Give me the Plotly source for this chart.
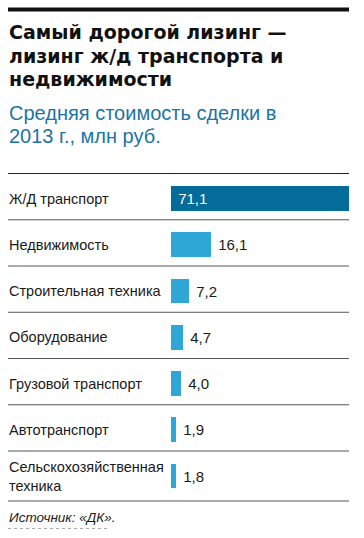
import plotly.graph_objects as go

categories = ["Ж/Д транспорт", "Недвижимость", "Строительная техника", "Оборудование",
              "Грузовой транспорт", "Автотранспорт", "Сельскохозяйственная<br>техника"]
values = [71.1, 16.1, 7.2, 4.7, 4.0, 1.9, 1.8]

title_lines = ["Самый дорогой лизинг —", "лизинг ж/д транспорта и", "недвижимости"]
subtitle_lines = ["Средняя стоимость сделки в", "2013 г., млн руб."]
source = "Источник: «ДК»."

W, H = 364, 538
# pixel geometry of the bar area
BAR_X0, BAR_X1 = 171, 349          # zero line and end of the longest bar
ROW0_Y, ROW_STEP = 198.5, 46.25    # centre of first row, row pitch
XS = (BAR_X1 - BAR_X0) / max(values)


def px(x):
    return x / W


def py(y):
    return 1 - y / H


def xd(x):
    return (x - BAR_X0) / XS


def yd(y):
    return (y - ROW0_Y) / ROW_STEP


DARK = "#046c99"
LIGHT = "#2ea6d6"
FONT = "Liberation Sans, Arial, sans-serif"

idx = list(range(len(categories)))
colors = [DARK] + [LIGHT] * (len(values) - 1)
positions = ["inside"] + ["outside"] * (len(values) - 1)
templates = ["\u00a0%{x:.1f}"] + ["\u00a0%{x:.1f}"] * (len(values) - 1)
txtcolors = ["white"] + ["#1a1a1a"] * (len(values) - 1)

fig = go.Figure(go.Bar(
    x=values, y=idx, orientation="h",
    marker=dict(color=colors, line=dict(width=0)),
    width=0.54,
    texttemplate=templates,
    textposition=positions,
    insidetextanchor="start",
    textfont=dict(size=15, color=txtcolors, family=FONT),
    constraintext="none",
    cliponaxis=False,
    hoverinfo="skip",
))

# decorative rules drawn as line traces
fig.add_trace(go.Scatter(x=[xd(8), xd(349)], y=[yd(9.5), yd(9.5)], mode="lines",
                         line=dict(color="#111", width=4), hoverinfo="skip",
                         cliponaxis=False))
fig.add_trace(go.Scatter(x=[xd(8), xd(110)], y=[yd(528.5), yd(528.5)], mode="lines",
                         line=dict(color="#aaa", width=1, dash="dot"), hoverinfo="skip",
                         cliponaxis=False))

shapes = []
seps = [i - 0.54 for i in idx] + [idx[-1] + 0.54]
for k, s in enumerate(seps):
    shapes.append(dict(type="line", xref="paper", yref="y",
                       x0=px(8), x1=px(349), y0=s, y1=s,
                       line=dict(color="#222" if k == 0 else "#555", width=1)))

annotations = []
for i, c in zip(idx, categories):
    annotations.append(dict(xref="paper", yref="y", x=px(7), y=i,
                            xanchor="left", yanchor="middle", align="left",
                            text=c, showarrow=False,
                            font=dict(size=14.5, color="#1a1a1a", family=FONT)))

title_base = [45, 69, 92.5]
for line, base in zip(title_lines, title_base):
    annotations.append(dict(xref="paper", yref="paper", x=px(7), y=py(base),
                            xanchor="left", yanchor="bottom", align="left",
                            text="<b>" + line + "</b>", showarrow=False,
                            font=dict(size=19, color="#111", family="DejaVu Sans")))
sub_base = [126.5, 149]
for line, base in zip(subtitle_lines, sub_base):
    annotations.append(dict(xref="paper", yref="paper", x=px(7), y=py(base),
                            xanchor="left", yanchor="bottom", align="left",
                            text=line, showarrow=False,
                            font=dict(size=20, color="#1b74a6", family=FONT)))
annotations.append(dict(xref="paper", yref="paper", x=px(7), y=py(517),
                        xanchor="left", yanchor="middle", align="left",
                        text="<i>" + source + "</i>", showarrow=False,
                        font=dict(size=13.5, color="#1a1a1a", family=FONT)))

fig.update_layout(
    width=W, height=H,
    margin=dict(l=0, r=0, t=0, b=0, pad=0),
    paper_bgcolor="white", plot_bgcolor="white",
    separators=", ",
    showlegend=False,
    xaxis=dict(range=[-BAR_X0 / XS, (W - BAR_X0) / XS], visible=False, fixedrange=True),
    yaxis=dict(range=[(H - ROW0_Y) / ROW_STEP, -ROW0_Y / ROW_STEP],
               visible=False, fixedrange=True),
    shapes=shapes,
    annotations=annotations,
    bargap=0,
)

fig.write_html("out.html", config={"displayModeBar": False},
               post_script="document.body.style.margin='0';document.body.style.overflow='hidden';")
